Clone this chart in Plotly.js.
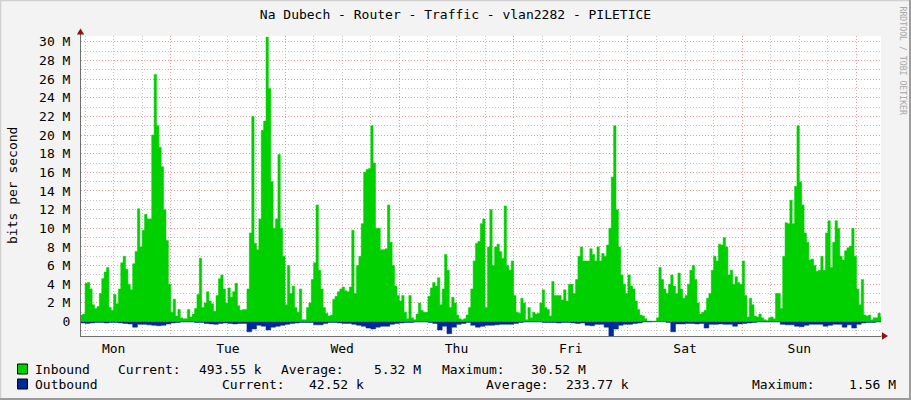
<!DOCTYPE html>
<html>
<head>
<meta charset="utf-8">
<script src="https://cdn.plot.ly/plotly-3.0.1.min.js"></script>
<style>
  html, body { margin: 0; padding: 0; background: #F3F3F3; }
  #chart { width: 911px; height: 400px; }
</style>
</head>
<body>
<div id="chart"></div>
<script>
// ---- Data (Mbit/s) ----
// Inbound, 30-minute samples. Monday starts at 05:00; other days start at 00:00.
const monIn = [0.7,0.8,4.1,4.2,3.5,1.8,1.4,1.6,3.0,4.6,5.3,5.8,1.5,1.2,2.9,1.9,3.5,6.3,7.0,5.6,4.0,3.4,6.2,7.5,12.1,8.0,9.8,11.5,11.0,11.0,20.0,26.5,21.0,18.7,16.6,12.0,8.7,4.0];
const tueIn = [1.0,2.4,0.6,1.3,0.4,0.3,0.3,1.3,0.5,0.8,1.4,2.9,6.8,1.5,2.0,3.2,2.2,1.9,1.1,2.8,4.6,5.0,3.5,2.0,3.6,2.6,3.2,4.1,1.7,1.2,1.3,1.3,3.5,9.5,22.0,8.4,7.7,11.0,20.5,21.5,30.5,25.0,15.0,10.0,11.0,17.9,10.0,7.0];
const wedIn = [1.8,6.0,3.0,3.8,1.5,1.0,3.5,0.2,0.2,1.5,2.0,4.5,6.3,12.5,5.5,3.5,1.5,0.9,0.6,0.7,2.4,2.7,3.2,3.5,3.7,3.3,3.2,3.7,9.8,3.0,6.0,7.0,10.5,16.0,16.3,16.4,21.0,17.0,10.0,10.0,7.7,7.7,7.8,12.5,8.5,6.0,3.8,2.8];
const thuIn = [2.2,2.8,1.0,0.3,2.8,0.4,0.2,0.8,2.0,1.2,1.0,1.0,2.7,3.6,4.2,3.8,4.7,1.8,3.5,7.2,5.5,1.5,2.6,2.0,0.7,0.3,0.2,0.3,0.7,1.5,3.5,6.5,8.4,8.6,10.5,11.0,1.5,8.0,12.0,6.0,8.0,8.3,7.5,6.8,12.4,6.0,5.5,6.5];
const friIn = [2.8,1.0,0.9,2.5,2.0,0.2,1.5,0.4,1.0,0.8,0.9,2.0,3.4,1.5,1.3,0.6,4.3,2.8,2.8,2.8,2.3,3.4,2.2,4.0,4.0,3.0,4.5,7.0,8.0,6.5,6.5,6.5,7.8,7.2,6.5,8.0,6.5,7.3,7.0,8.2,10.0,15.5,21.0,12.0,8.0,5.0,4.0,3.0];
const satIn = [5.0,3.8,3.5,2.2,1.3,0.7,0.6,0.3,0.05,0.05,0.05,0.05,0.4,5.8,4.5,3.5,3.0,4.0,5.0,3.8,3.0,5.2,3.5,2.5,2.8,4.0,5.5,6.0,4.5,2.0,0.8,1.0,1.2,2.5,3.0,5.5,7.0,6.5,8.3,8.2,9.0,8.0,5.0,5.5,4.0,4.8,4.2,4.0];
const sunIn = [6.5,2.8,0.5,2.5,1.8,0.6,0.5,0.8,0.4,0.2,0.1,0.4,0.5,0.3,3.0,3.0,1.4,7.0,10.6,10.5,13.0,10.5,14.5,21.0,15.0,12.5,9.5,8.5,6.6,6.7,6.0,5.4,5.5,7.0,5.5,9.5,10.8,5.8,8.5,10.8,10.0,7.0,6.6,7.6,7.9,8.1,10.0,7.0];
const nextMonIn = [3.5,1.8,4.5,0.7,0.6,0.7,0.2,0.4,0.4,0.9,0.49];

// Outbound, hourly samples (plotted below zero).
const monOut = [0.15,0.2,0.15,0.1,0.1,0.15,0.1,0.1,0.15,0.2,0.25,0.6,0.3,0.3,0.35,0.4,0.45,0.4,0.25];
const tueOut = [0.15,0.1,0.05,0.05,0.05,0.1,0.1,0.2,0.25,0.3,0.2,0.15,0.2,0.25,0.2,0.2,1.1,0.8,0.4,0.5,0.9,0.6,0.5,0.4];
const wedOut = [0.3,0.2,0.15,0.1,0.1,0.1,0.35,0.35,0.2,0.1,0.1,0.15,0.2,0.2,0.3,0.4,0.5,0.7,0.8,0.6,0.5,0.5,0.3,0.2];
const thuOut = [0.15,0.1,0.1,0.05,0.05,0.05,0.1,0.2,0.9,0.5,1.3,0.6,0.3,0.2,0.1,0.4,0.6,0.5,0.4,0.4,0.35,0.3,0.3,0.3];
const friOut = [0.2,0.1,0.05,0.05,0.05,0.05,0.1,0.1,0.1,0.15,0.1,0.1,0.15,0.2,0.15,0.4,0.45,0.3,0.3,0.6,1.56,0.8,0.4,0.3];
const satOut = [0.3,0.2,0.15,0.05,0.05,0.02,0.02,0.02,0.1,1.1,0.25,0.25,0.2,0.2,0.25,0.2,0.7,0.3,0.3,0.25,0.3,0.3,0.5,0.25];
const sunOut = [0.2,0.15,0.1,0.05,0.05,0.05,0.05,0.05,0.3,0.35,0.35,0.5,0.55,0.4,0.3,0.3,0.3,0.5,0.4,0.3,0.3,0.6,0.35,0.7];
const nextMonOut = [0.3,0.15,0.1,0.1,0.05,0.04];

// Axis tick labels
const yTickVals = [0,2,4,6,8,10,12,14,16,18,20,22,24,26,28,30];
const yTickText = ['0','2 M','4 M','6 M','8 M','10 M','12 M','14 M','16 M','18 M','20 M','22 M','24 M','26 M','28 M','30 M'];

// Legend text
const legendRows = [
  [['Inbound',33],['Current:',116],['493.55 k',197],['Average:',279],['5.32 M',372],['Maximum:',440],['30.52 M',529]],
  [['Outbound',33],['Current:',220],['42.52 k',307],['Average:',484],['233.77 k',564],['Maximum:',750],['1.56 M',847]]
];
const legendColors = ['#00CF00','#002A97'];

// ---- Build ----
const HOUR = 3600000;
const start = Date.UTC(2024,0,1,5,0);
const inbound = [].concat(monIn,tueIn,wedIn,thuIn,friIn,satIn,sunIn,nextMonIn);
const outbound = [].concat(monOut,tueOut,wedOut,thuOut,friOut,satOut,sunOut,nextMonOut);

const xin = [], yin = [];
inbound.forEach((v,i)=>{ xin.push(start + i*HOUR/2); yin.push(v*1e6); });
xin.push(start + inbound.length*HOUR/2); yin.push(inbound[inbound.length-1]*1e6);
const xout = [], yout = [];
outbound.forEach((v,i)=>{ xout.push(start + i*HOUR); yout.push(-v*1e6); });
xout.push(start + outbound.length*HOUR); yout.push(-outbound[outbound.length-1]*1e6);

const FONT = 'DejaVu Sans Mono, monospace';
const L = 81, T = 36, W = 800, H = 300;
const px = x => (x - L)/W;
const py = y => (T + H - y)/H;

const traces = [
  {x:xin, y:yin, type:'scatter', mode:'lines', fill:'tozeroy', fillcolor:'#00CF00',
   line:{shape:'hv', width:0.5, color:'#00CF00'}, hoverinfo:'skip', showlegend:false},
  {x:xout, y:yout, type:'scatter', mode:'lines', fill:'tozeroy', fillcolor:'#002A97',
   line:{shape:'hv', width:0.5, color:'#002A97'}, hoverinfo:'skip', showlegend:false}
];

const annotations = [];
legendRows.forEach((row,r)=>{
  const yy = r===0 ? 369 : 384;
  row.forEach(([t,x])=>{
    annotations.push({text:t, xref:'paper', yref:'paper', x:px(x), y:py(yy), xanchor:'left', yanchor:'middle',
      showarrow:false, font:{family:FONT, size:13, color:'#000'}});
  });
});
annotations.push({text:'bits per second', xref:'paper', yref:'paper', x:px(12), y:0.5, textangle:-90,
  xanchor:'center', yanchor:'middle', showarrow:false, font:{family:FONT, size:13, color:'#000'}});
annotations.push({text:'RRDTOOL / TOBI OETIKER', xref:'paper', yref:'paper', x:px(903), y:py(60.5), textangle:90,
  xanchor:'center', yanchor:'middle', showarrow:false, font:{family:FONT, size:8.2, color:'#A8A8A8'}});

const shapes = [];
legendColors.forEach((c,r)=>{
  const y0 = r===0 ? 364 : 379;
  shapes.push({type:'rect', xref:'paper', yref:'paper', x0:px(17.5), x1:px(27.5), y0:py(y0+10), y1:py(y0),
    fillcolor:c, line:{color:'#000', width:1}});
});
// frame
shapes.push({type:'line', xref:'paper', yref:'paper', x0:px(0), x1:px(911), y0:py(0.5), y1:py(0.5), line:{color:'#D0D0D0', width:1.5}});
shapes.push({type:'line', xref:'paper', yref:'paper', x0:px(0.5), x1:px(0.5), y0:py(0), y1:py(400), line:{color:'#D0D0D0', width:1.5}});
shapes.push({type:'line', xref:'paper', yref:'paper', x0:px(910), x1:px(910), y0:py(0), y1:py(400), line:{color:'#9C9C9C', width:2}});
shapes.push({type:'line', xref:'paper', yref:'paper', x0:px(0), x1:px(911), y0:py(399), y1:py(399), line:{color:'#9C9C9C', width:2}});
// axis extensions + arrows
shapes.push({type:'line', xref:'paper', yref:'paper', x0:px(80.5), x1:px(80.5), y0:py(36), y1:py(31), line:{color:'#6E6E6E', width:1}});
shapes.push({type:'line', xref:'paper', yref:'paper', x0:px(881), x1:px(884), y0:py(336), y1:py(336), line:{color:'#6E6E6E', width:1}});
shapes.push({type:'path', xref:'paper', yref:'paper', fillcolor:'#8E1212', line:{width:0},
  path:`M ${px(80.5)} ${py(28.5)} L ${px(76.8)} ${py(34.5)} L ${px(84.2)} ${py(34.5)} Z`});
shapes.push({type:'path', xref:'paper', yref:'paper', fillcolor:'#8E1212', line:{width:0},
  path:`M ${px(888)} ${py(336)} L ${px(882)} ${py(332.3)} L ${px(882)} ${py(339.7)} Z`});

const layout = {
  width:911, height:400,
  margin:{l:L, r:911-L-W, t:T, b:400-T-H, pad:0},
  paper_bgcolor:'#F3F3F3', plot_bgcolor:'#FFFFFF',
  font:{family:FONT, size:13, color:'#000'},
  title:{text:'Na Dubech - Router - Traffic - vlan2282 - PILETICE', x:0.5, xref:'container', xanchor:'center',
    y:1-14/400, yref:'container', yanchor:'middle', font:{family:FONT, size:13, color:'#000'}},
  xaxis:{type:'date', range:[Date.UTC(2024,0,1,5,9), Date.UTC(2024,0,8,5,9)],
    tickmode:'linear', tick0:Date.UTC(2024,0,1), dtick:24*HOUR, tickformat:'%a', ticklabelmode:'period',
    showgrid:true, gridcolor:'#E89A9A', griddash:'1px,2px', gridwidth:1,
    minor:{dtick:6*HOUR, showgrid:true, gridcolor:'#C4C4C4', griddash:'1px,2px', gridwidth:1},
    showline:true, linecolor:'#6E6E6E', linewidth:1, ticks:'', zeroline:false, fixedrange:true,
    tickfont:{family:FONT, size:13, color:'#000'}},
  yaxis:{range:[-1.55e6, 30.62e6], tickmode:'array', tickvals:yTickVals.map(v=>v*1e6), ticktext:yTickText,
    showgrid:true, gridcolor:'#E89A9A', griddash:'1px,2px', gridwidth:1,
    minor:{tickmode:'linear', tick0:0, dtick:1e6, showgrid:true, gridcolor:'#C4C4C4', griddash:'1px,2px', gridwidth:1},
    showline:true, linecolor:'#6E6E6E', linewidth:1, ticks:'', zeroline:false, fixedrange:true,
    ticklabelstandoff:7, automargin:false,
    tickfont:{family:FONT, size:13, color:'#000'}},
  showlegend:false,
  annotations:annotations,
  shapes:shapes
};

Plotly.newPlot('chart', traces, layout, {displayModeBar:false, staticPlot:true});
</script>
</body>
</html>
